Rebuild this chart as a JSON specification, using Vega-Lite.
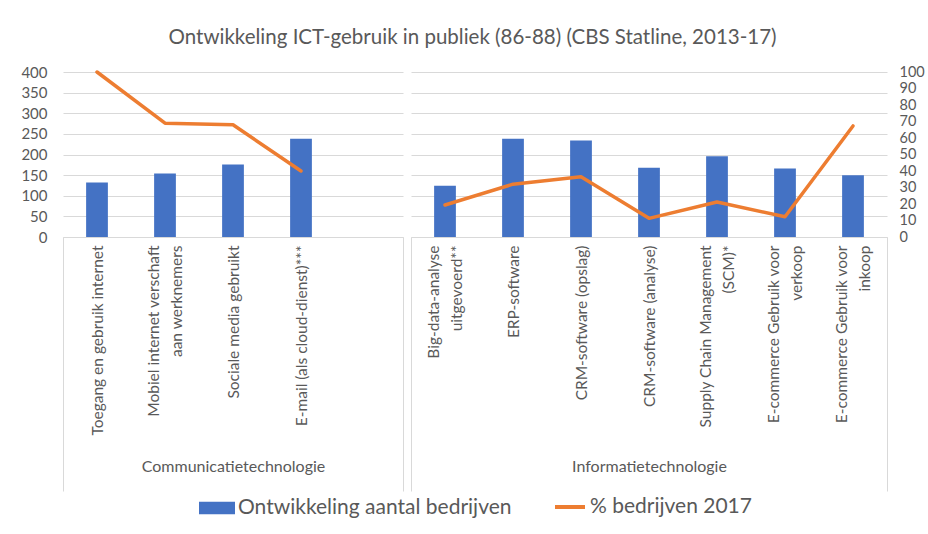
{
  "$schema": "https://vega.github.io/schema/vega-lite/v6.json",
  "background": "white",
  "padding": {"left": 20, "top": 27, "right": 2, "bottom": 4},
  "title": {
    "text": "Ontwikkeling ICT-gebruik in publiek (86-88) (CBS Statline, 2013-17)",
    "font": "Lato", "fontSize": 20.5, "fontWeight": "normal", "color": "#595959",
    "anchor": "middle", "offset": 16
  },
  "config": {
    "view": {"stroke": null},
    "font": "Lato",
    "axis": {"labelFont": "Lato", "titleFont": "Lato", "labelColor": "#595959", "titleColor": "#595959"}
  },
  "data": {
    "values": [
      {"cat": "Toegang en gebruik internet", "group": "Communicatietechnologie", "n": 132, "pct": 100},
      {"cat": "Mobiel internet verschaft|aan werknemers", "group": "Communicatietechnologie", "n": 154, "pct": 69},
      {"cat": "Sociale media gebruikt", "group": "Communicatietechnologie", "n": 176, "pct": 68},
      {"cat": "E-mail (als cloud-dienst)***", "group": "Communicatietechnologie", "n": 238, "pct": 40},
      {"cat": "Big-data-analyse|uitgevoerd**", "group": "Informatietechnologie", "n": 124, "pct": 19.4},
      {"cat": "ERP-software", "group": "Informatietechnologie", "n": 238, "pct": 32},
      {"cat": "CRM-software (opslag)", "group": "Informatietechnologie", "n": 234, "pct": 36.5},
      {"cat": "CRM-software (analyse)", "group": "Informatietechnologie", "n": 168, "pct": 11.3},
      {"cat": "Supply Chain Management|(SCM)*", "group": "Informatietechnologie", "n": 196, "pct": 21.2},
      {"cat": "E-commerce Gebruik voor|verkoop", "group": "Informatietechnologie", "n": 166, "pct": 12.3},
      {"cat": "E-commerce Gebruik voor|inkoop", "group": "Informatietechnologie", "n": 150, "pct": 67.3}
    ]
  },
  "spacing": 0,
  "hconcat": [
    {
      "width": 340,
      "height": 165,
      "transform": [{"filter": "datum.group === 'Communicatietechnologie'"}],
      "encoding": {
        "x": {
          "field": "cat", "type": "nominal", "sort": null,
          "scale": {
            "domain": ["Toegang en gebruik internet", "Mobiel internet verschaft|aan werknemers", "Sociale media gebruikt", "E-mail (als cloud-dienst)***", " "],
            "paddingInner": 0, "paddingOuter": 0
          },
          "axis": {
            "title": "Communicatietechnologie",
            "titleFontSize": 16, "titleFontWeight": "normal", "titleY": 229, "titleBaseline": "middle",
            "labelAngle": -90, "labelAlign": "right", "labelBaseline": "middle",
            "labelExpr": "split(datum.label, '|')",
            "labelOffset": {"condition": {"test": "indexof(datum.label, '|') >= 0", "value": -11.5}, "value": 0},
            "labelFontSize": 15.5, "labelLineHeight": 23, "labelLimit": 400,
            "labelPadding": -246,
            "tickBand": "extent", "tickSize": 254, "tickColor": "#d9d9d9", "tickWidth": 1,
            "tickOpacity": {"condition": {"test": "datum.index === -1 || datum.index === 1", "value": 1}, "value": 0},
            "domainColor": "#d9d9d9", "labelOverlap": false
          }
        }
      },
      "layer": [
        {
          "mark": {"type": "bar", "width": {"band": 0.32}},
          "encoding": {
            "y": {
              "field": "n", "type": "quantitative",
              "scale": {"domain": [0, 400], "nice": false},
              "axis": {
                "orient": "left", "title": null, "values": [0, 50, 100, 150, 200, 250, 300, 350, 400],
                "grid": true, "gridColor": "#d9d9d9", "domain": false, "ticks": false,
                "labelPadding": 16, "labelFontSize": 15, "labelOverlap": false
              }
            },
            "fill": {
              "datum": "Ontwikkeling aantal bedrijven", "type": "nominal", "scale": {"range": ["#4472C4"]},
              "legend": {
                "orient": "none", "legendX": 136, "legendY": 418, "title": null, "padding": 0,
                "symbolType": "M-1,-0.35H1V0.35H-1Z", "symbolSize": 1296, "symbolStrokeWidth": 0,
                "labelFont": "Lato", "labelFontSize": 21, "labelColor": "#595959", "labelOffset": 3, "labelLimit": 400
              }
            }
          }
        },
        {
          "mark": {"type": "line", "strokeWidth": 3.5, "strokeCap": "round", "strokeJoin": "round"},
          "encoding": {
            "y": {"field": "pct", "type": "quantitative", "scale": {"domain": [0, 100], "nice": false}, "axis": null},
            "stroke": {
              "datum": "% bedrijven 2017", "type": "nominal", "scale": {"range": ["#ED7D31"]},
              "legend": {
                "orient": "none", "legendX": 490, "legendY": 418, "title": null, "padding": 0,
                "symbolType": "stroke", "symbolSize": 900, "symbolStrokeWidth": 4,
                "labelFont": "Lato", "labelFontSize": 21, "labelColor": "#595959", "labelOffset": 3, "labelLimit": 400
              }
            }
          }
        }
      ],
      "resolve": {"scale": {"y": "independent"}}
    },
    {
      "width": 476,
      "height": 165,
      "transform": [{"filter": "datum.group === 'Informatietechnologie'"}],
      "encoding": {
        "x": {
          "field": "cat", "type": "nominal", "sort": null,
          "scale": {
            "domain": ["Big-data-analyse|uitgevoerd**", "ERP-software", "CRM-software (opslag)", "CRM-software (analyse)", "Supply Chain Management|(SCM)*", "E-commerce Gebruik voor|verkoop", "E-commerce Gebruik voor|inkoop"],
            "paddingInner": 0, "paddingOuter": 0
          },
          "axis": {
            "title": "Informatietechnologie",
            "titleFontSize": 16, "titleFontWeight": "normal", "titleY": 229, "titleBaseline": "middle",
            "labelAngle": -90, "labelAlign": "right", "labelBaseline": "middle",
            "labelExpr": "split(datum.label, '|')",
            "labelOffset": {"condition": {"test": "indexof(datum.label, '|') >= 0", "value": -11.5}, "value": 0},
            "labelFontSize": 15.5, "labelLineHeight": 23, "labelLimit": 400,
            "labelPadding": -246,
            "tickBand": "extent", "tickSize": 254, "tickColor": "#d9d9d9", "tickWidth": 1,
            "tickOpacity": {"condition": {"test": "datum.index === -1 || datum.index === 1", "value": 1}, "value": 0},
            "domainColor": "#d9d9d9", "labelOverlap": false
          }
        }
      },
      "layer": [
        {
          "mark": {"type": "bar", "width": {"band": 0.32}},
          "encoding": {
            "y": {
              "field": "n", "type": "quantitative",
              "scale": {"domain": [0, 400], "nice": false},
              "axis": {
                "orient": "left", "title": null, "values": [0, 50, 100, 150, 200, 250, 300, 350, 400],
                "grid": true, "gridColor": "#d9d9d9", "domain": false, "ticks": false, "labels": false,
                "labelPadding": 0, "minExtent": 0, "maxExtent": 0
              }
            },
            "fill": {
              "datum": "Ontwikkeling aantal bedrijven", "type": "nominal", "scale": {"range": ["#4472C4"]},
              "legend": {
                "orient": "none", "legendX": 136, "legendY": 418, "title": null, "padding": 0,
                "symbolType": "M-1,-0.35H1V0.35H-1Z", "symbolSize": 1296, "symbolStrokeWidth": 0,
                "labelFont": "Lato", "labelFontSize": 21, "labelColor": "#595959", "labelOffset": 3, "labelLimit": 400
              }
            }
          }
        },
        {
          "mark": {"type": "line", "strokeWidth": 3.5, "strokeCap": "round", "strokeJoin": "round"},
          "encoding": {
            "y": {
              "field": "pct", "type": "quantitative", "scale": {"domain": [0, 100], "nice": false},
              "axis": {
                "orient": "right", "title": null, "values": [0, 10, 20, 30, 40, 50, 60, 70, 80, 90, 100],
                "grid": false, "domain": false, "ticks": false, "labelPadding": 12, "labelFontSize": 14.5, "labelOverlap": false
              }
            },
            "stroke": {
              "datum": "% bedrijven 2017", "type": "nominal", "scale": {"range": ["#ED7D31"]},
              "legend": {
                "orient": "none", "legendX": 490, "legendY": 418, "title": null, "padding": 0,
                "symbolType": "stroke", "symbolSize": 900, "symbolStrokeWidth": 4,
                "labelFont": "Lato", "labelFontSize": 21, "labelColor": "#595959", "labelOffset": 3, "labelLimit": 400
              }
            }
          }
        }
      ],
      "resolve": {"scale": {"y": "independent"}}
    }
  ]
}
